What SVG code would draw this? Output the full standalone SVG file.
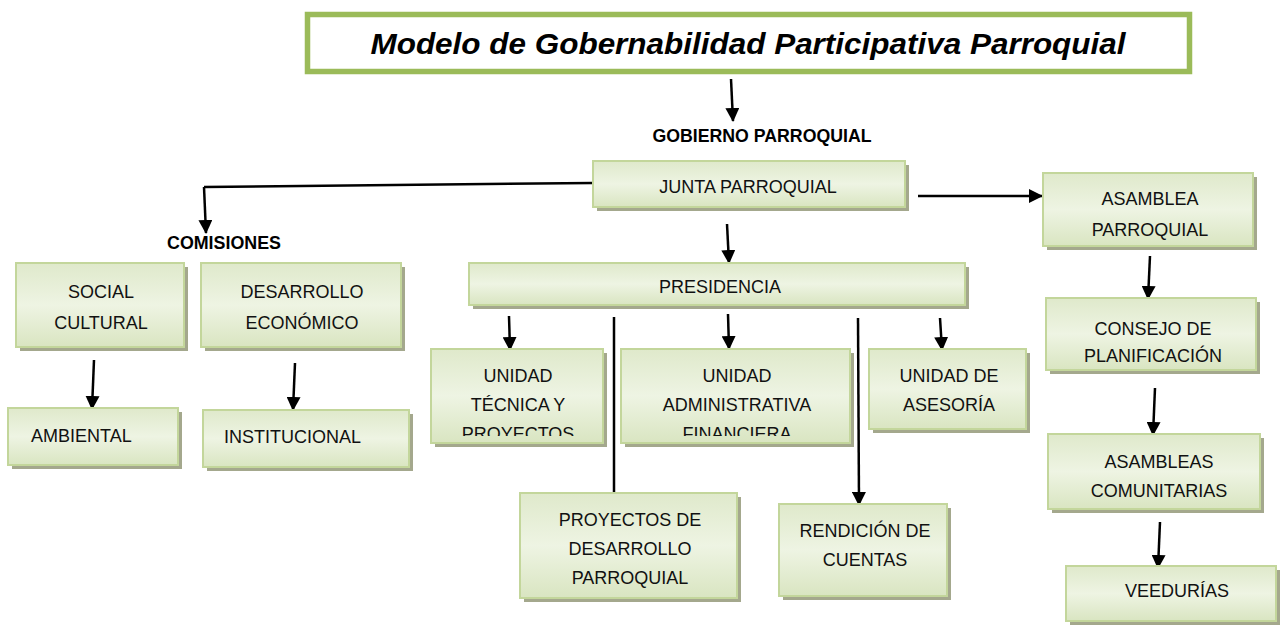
<svg xmlns="http://www.w3.org/2000/svg" width="1283" height="625" viewBox="0 0 1283 625">
<defs>
<linearGradient id="g" x1="0" y1="0" x2="0" y2="1">
<stop offset="0" stop-color="#dfe9cb"/>
<stop offset="0.5" stop-color="#eef4e3"/>
<stop offset="1" stop-color="#d9e5c1"/>
</linearGradient>
<marker id="ah" markerUnits="userSpaceOnUse" markerWidth="14" markerHeight="14" viewBox="0 0 14 14" refX="13" refY="7" orient="auto">
<path d="M0,0 L14,7 L0,14 z" fill="#000"/>
</marker>
<clipPath id="c1"><rect x="431" y="349" width="172" height="87"/></clipPath>
<clipPath id="c2"><rect x="621" y="349" width="229" height="87"/></clipPath>
</defs>
<style>
.sh{fill:#a4a88d}
.bx{fill:url(#g);stroke:#c3d69b;stroke-width:2}
.t{font-family:"Liberation Sans",Arial,sans-serif;font-size:18px;fill:#111;text-anchor:middle}
.ts{text-anchor:start}
.b{font-family:"Liberation Sans",Arial,sans-serif;font-weight:bold;font-size:17.5px;fill:#000;text-anchor:middle}
.ln{stroke:#000;stroke-width:2.5;fill:none}
.ar{stroke:#000;stroke-width:2.5;fill:none;marker-end:url(#ah)}
</style>
<rect width="1283" height="625" fill="#fff"/>

<g id="title">
<rect x="307.5" y="14.5" width="882" height="57" fill="#fff" stroke="#9bbb59" stroke-width="5.5"/>
<text x="748" y="54" font-family="'Liberation Sans',Arial,sans-serif" font-weight="bold" font-style="italic" font-size="30" text-anchor="middle" textLength="755" lengthAdjust="spacingAndGlyphs">Modelo de Gobernabilidad Participativa Parroquial</text>
</g>

<g id="gobierno-label"><text class="b" x="762" y="142" textLength="219" lengthAdjust="spacingAndGlyphs">GOBIERNO PARROQUIAL</text></g>
<g id="comisiones-label"><text class="b" x="224" y="249" textLength="114" lengthAdjust="spacingAndGlyphs">COMISIONES</text></g>

<g id="connectors">
<path class="ar" d="M731,79 L733,121"/>
<path class="ln" d="M593,183 L204,187"/>
<path class="ar" d="M204,187 L206,233"/>
<path class="ar" d="M918,196 L1042,196"/>
<path class="ar" d="M727,224 L729,263"/>
<path class="ar" d="M509,316 L510,350"/>
<path class="ar" d="M728,314 L729,349"/>
<path class="ar" d="M940,318 L942,350"/>
<path class="ln" d="M614,317 L614,520 M607,520 L621,520"/>
<path class="ar" d="M858,318 L859,505"/>
<path class="ar" d="M94,360 L92,409"/>
<path class="ar" d="M295,363 L293,410"/>
<path class="ar" d="M1150,256 L1148,299"/>
<path class="ar" d="M1155,388 L1153,435"/>
<path class="ar" d="M1160,522 L1158,568"/>
</g>

<g id="junta"><rect class="sh" x="597" y="165" width="312" height="46"/><rect class="bx" x="593" y="161" width="312" height="46"/><text class="t" x="748" y="193">JUNTA PARROQUIAL</text></g>
<g id="presidencia"><rect class="sh" x="473" y="267" width="496" height="42"/><rect class="bx" x="469" y="263" width="496" height="42"/><text class="t" x="720" y="293">PRESIDENCIA</text></g>

<g id="social"><rect class="sh" x="20" y="267" width="168" height="84"/><rect class="bx" x="16" y="263" width="168" height="84"/><text class="t" x="101" y="298">SOCIAL</text><text class="t" x="101" y="329">CULTURAL</text></g>
<g id="desarrollo"><rect class="sh" x="205" y="267" width="200" height="84"/><rect class="bx" x="201" y="263" width="200" height="84"/><text class="t" x="302" y="298">DESARROLLO</text><text class="t" x="302" y="329">ECONÓMICO</text></g>
<g id="ambiental"><rect class="sh" x="12" y="412" width="170" height="57"/><rect class="bx" x="8" y="408" width="170" height="57"/><text class="t ts" x="31" y="442">AMBIENTAL</text></g>
<g id="institucional"><rect class="sh" x="207" y="414" width="206" height="57"/><rect class="bx" x="203" y="410" width="206" height="57"/><text class="t ts" x="224" y="443">INSTITUCIONAL</text></g>

<g id="unidad-tecnica"><rect class="sh" x="435" y="353" width="172" height="94"/><rect class="bx" x="431" y="349" width="172" height="94"/><g clip-path="url(#c1)"><text class="t" x="518" y="382">UNIDAD</text><text class="t" x="518" y="411">TÉCNICA Y</text><text class="t" x="518" y="440">PROYECTOS</text></g></g>
<g id="unidad-administrativa"><rect class="sh" x="625" y="353" width="229" height="94"/><rect class="bx" x="621" y="349" width="229" height="94"/><g clip-path="url(#c2)"><text class="t" x="737" y="382">UNIDAD</text><text class="t" x="737" y="411">ADMINISTRATIVA</text><text class="t" x="737" y="440">FINANCIERA</text></g></g>
<g id="unidad-asesoria"><rect class="sh" x="873" y="353" width="157" height="80"/><rect class="bx" x="869" y="349" width="157" height="80"/><text class="t" x="949" y="382">UNIDAD DE</text><text class="t" x="949" y="411">ASESORÍA</text></g>

<g id="proyectos"><rect class="sh" x="524" y="497" width="217" height="105"/><rect class="bx" x="520" y="493" width="217" height="105"/><text class="t" x="630" y="526">PROYECTOS DE</text><text class="t" x="630" y="555">DESARROLLO</text><text class="t" x="630" y="584">PARROQUIAL</text></g>
<g id="rendicion"><rect class="sh" x="783" y="508" width="168" height="92"/><rect class="bx" x="779" y="504" width="168" height="92"/><text class="t" x="865" y="537">RENDICIÓN DE</text><text class="t" x="865" y="566">CUENTAS</text></g>

<g id="asamblea-parroquial"><rect class="sh" x="1047" y="177" width="210" height="73"/><rect class="bx" x="1043" y="173" width="210" height="73"/><text class="t" x="1150" y="205">ASAMBLEA</text><text class="t" x="1150" y="236">PARROQUIAL</text></g>
<g id="consejo"><rect class="sh" x="1050" y="302" width="210" height="72"/><rect class="bx" x="1046" y="298" width="210" height="72"/><text class="t" x="1153" y="335">CONSEJO DE</text><text class="t" x="1153" y="362">PLANIFICACIÓN</text></g>
<g id="asambleas-comunitarias"><rect class="sh" x="1052" y="438" width="212" height="75"/><rect class="bx" x="1048" y="434" width="212" height="75"/><text class="t" x="1159" y="468">ASAMBLEAS</text><text class="t" x="1159" y="497">COMUNITARIAS</text></g>
<g id="veedurias"><rect class="sh" x="1070" y="570" width="210" height="55"/><rect class="bx" x="1066" y="566" width="210" height="55"/><text class="t" x="1177" y="597">VEEDURÍAS</text></g>
</svg>
